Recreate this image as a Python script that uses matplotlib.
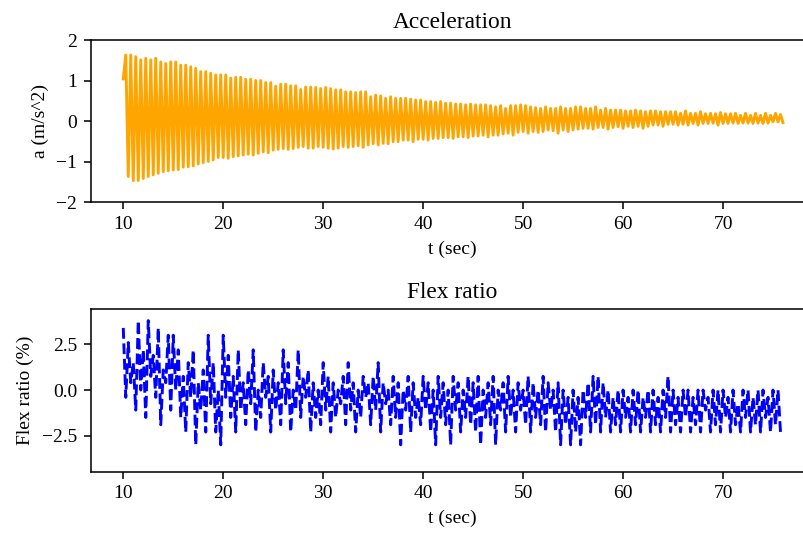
import matplotlib
matplotlib.use("Agg")
import matplotlib.pyplot as plt
import numpy as np

# Sampling of the logged signals
t_start = 10.0
t_step = 0.25

# Acceleration: first sample, then the peak / trough of each cycle (m/s^2)
accel_first = 1.04
accel_peaks = [
    1.63, 1.63, 1.59, 1.51, 1.55, 1.51, 1.55, 1.46, 1.42, 1.46,
    1.46, 1.38, 1.38, 1.34, 1.30, 1.22, 1.22, 1.18, 1.14, 1.14,
    1.14, 1.06, 1.08, 1.08, 1.03, 1.03, 1.00, 1.00, 0.95, 0.95,
    0.86, 0.91, 0.91, 0.87, 0.87, 0.78, 0.84, 0.84, 0.83, 0.80,
    0.83, 0.80, 0.77, 0.77, 0.72, 0.72, 0.70, 0.72, 0.72, 0.60,
    0.64, 0.62, 0.56, 0.60, 0.56, 0.56, 0.56, 0.54, 0.52, 0.52,
    0.48, 0.48, 0.46, 0.48, 0.44, 0.44, 0.42, 0.42, 0.40, 0.42,
    0.40, 0.40, 0.40, 0.38, 0.35, 0.38, 0.31, 0.38, 0.38, 0.40,
    0.38, 0.35, 0.33, 0.31, 0.35, 0.31,
    0.31, 0.35, 0.31, 0.31, 0.35, 0.35, 0.31, 0.31, 0.35, 0.27,
    0.31, 0.27, 0.27, 0.27, 0.25, 0.25, 0.27, 0.25, 0.23, 0.25,
    0.25, 0.23, 0.23, 0.23, 0.23, 0.19, 0.25, 0.19, 0.19, 0.23,
    0.18, 0.19, 0.18, 0.21, 0.18, 0.18, 0.19, 0.14, 0.19, 0.14,
    0.19, 0.14, 0.19, 0.14, 0.19, 0.16,
]
accel_troughs = [
    -1.37, -1.47, -1.47, -1.42, -1.37, -1.33, -1.29, -1.25, -1.23, -1.21,
    -1.20, -1.14, -1.13, -1.11, -1.06, -1.03, -1.00, -0.96, -0.90, -0.90,
    -0.92, -0.88, -0.86, -0.84, -0.82, -0.84, -0.80, -0.76, -0.78, -0.72,
    -0.70, -0.68, -0.70, -0.68, -0.65, -0.63, -0.67, -0.67, -0.63, -0.65,
    -0.67, -0.69, -0.67, -0.63, -0.65, -0.63, -0.61, -0.65, -0.59, -0.56,
    -0.59, -0.55, -0.56, -0.51, -0.51, -0.47, -0.47, -0.51, -0.45, -0.45,
    -0.47, -0.43, -0.43, -0.41, -0.41, -0.43, -0.39, -0.39, -0.41, -0.37,
    -0.37, -0.35, -0.39, -0.35, -0.35, -0.32, -0.30, -0.35, -0.28, -0.26,
    -0.30, -0.26, -0.28, -0.26, -0.22, -0.24,
    -0.30, -0.22, -0.26, -0.22, -0.20, -0.18, -0.18, -0.20, -0.16, -0.16,
    -0.20, -0.16, -0.14, -0.18, -0.13, -0.16, -0.13, -0.18, -0.13, -0.10,
    -0.10, -0.13, -0.08, -0.08, -0.10, -0.08, -0.10, -0.06, -0.10, -0.06,
    -0.06, -0.05, -0.10, -0.06, -0.06, -0.05, -0.06, -0.05, -0.05, -0.06,
    -0.05, -0.06, -0.05, -0.02, -0.02, -0.04,
]

# Flex ratio (%), one value per sample
flex_ratio = [
    3.4, -0.4, 2.6, 0.4, 1.5, -1.1, 3.8, 0.0, 2.2, -1.5, 3.8, 0.75, 1.9, -0.4, 3.4, -1.9, 1.1, 0.4, 3.0, -1.1,
    3.0, 0.0, 2.2, -1.5, 0.75, -2.3, 1.5, -0.4, 2.2, -3.0, 0.4, -1.1, 1.1, -2.3, 3.0, -0.75, 1.5, -2.3, 0.0, -3.0,
    3.0, -0.4, 1.9, -1.5, 0.75, -2.3, 2.2, -1.1, 0.4, -1.9, 1.1, -0.75, 2.2, -2.3, 0.0, -1.5, 1.5, -0.4, 0.75, -2.3,
    1.1, -1.1, 0.4, -1.9, 2.2, -0.75, 1.5, -2.3, 0.0, -1.1, 2.2, -1.5, 0.75, -0.4, 1.1, -2.3, 0.4, -1.5, 0.0, -1.9,
    1.5, -1.1, 0.75, -2.3, 0.4, -1.5, 0.0, -0.75, 0.75, -1.9, 1.5, -1.1, 0.4, -2.3, 0.0, -1.5, 0.75, -0.4, 0.4, -1.9,
    0.75, -1.1, 1.5, -2.3, 0.4, -0.75, 0.0, -1.9, 0.75, -1.5, 0.4, -3.0, 0.0, -1.1, 0.75, -2.3, 0.4, -1.5, -0.4, -1.9,
    0.75, -1.1, 0.4, -2.3, 0.0, -3.0, 0.75, -1.5, 0.4, -1.9, 0.0, -3.0, 0.75, -1.1, 0.4, -2.3, 0.0, -1.5, 0.75, -1.9,
    0.4, -2.3, 0.75, -3.0, 0.0, -1.5, 0.4, -1.9, 0.75, -3.0, 0.0, -1.1, 0.4, -2.3, 0.75, -1.5, 0.0, -2.3, 0.4, -1.1,
    0.0, -1.9, 0.75, -2.3, 0.4, -1.5, 0.0, -1.9, 0.75, -2.3, 0.4, -1.1, 0.0, -2.3, 0.4, -3.0, 0.0, -1.9, -0.4, -3.0,
    0.0, -2.3, -0.4, -3.0, 0.0, -1.5, 0.4, -2.3, 0.75, -1.9, 0.75, -2.3, 0.4, -1.5, 0.0, -2.3, -0.4, -1.9, 0.0, -2.3,
    0.0, -1.5, -0.4, -2.3, 0.0, -1.9, 0.0, -2.3, -0.4, -1.5, 0.0, -2.3, 0.0, -1.9, -0.4, -2.3, 0.0, -1.5, 0.75, -2.3,
    0.0, -1.9, -0.4, -2.3, 0.0, -1.5, 0.0, -2.3, -0.4, -1.9, 0.0, -2.3, 0.0, -1.1, -0.4, -2.3, 0.0, -1.9, 0.0, -2.3,
    0.0, -1.5, -0.4, -2.3, 0.0, -1.9, -0.75, -2.3, 0.0, -1.5, 0.0, -2.3, -0.4, -1.9, 0.0, -2.3, 0.0, -1.5, -0.4, -2.3,
    0.0, -1.9, 0.0, -2.3,
]


def main():
    plt.rcParams['font.family'] = ['Liberation Serif', 'DejaVu Serif']

    # Interleave peaks and troughs into one trace
    n = min(len(accel_peaks), len(accel_troughs))
    accel = np.concatenate([[accel_first],
                            np.column_stack([accel_peaks[:n], accel_troughs[:n]]).ravel()])
    t_accel = t_start + t_step * np.arange(len(accel))
    t_flex = t_start + t_step * np.arange(len(flex_ratio))

    # Rendered at 140 dpi so text and lines come out at the original scale
    dpi = 140
    fig = plt.figure(figsize=(803 / dpi, 534 / dpi), dpi=dpi)

    # Axes run past the right border, as in the cropped original
    ax1 = fig.add_axes([0.1133, 0.6217, 0.9004, 0.3033])
    ax1.plot(t_accel, accel, color='orange')
    ax1.set_title("Acceleration")
    ax1.set_xlabel("t (sec)")
    ax1.set_ylabel("a (m/s^2)")
    ax1.set_ylim(-2, 2)
    ax1.set_yticks([-2, -1, 0, 1, 2])
    ax1.set_xlim(6.77, 79.1)

    ax2 = fig.add_axes([0.1133, 0.1167, 0.9004, 0.3041])
    ax2.plot(t_flex, flex_ratio, 'b--')
    ax2.set_title("Flex ratio")
    ax2.set_xlabel("t (sec)")
    ax2.set_ylabel("Flex ratio (%)")
    ax2.set_ylim(-4.47, 4.42)
    ax2.set_yticks([-2.5, 0.0, 2.5])
    ax2.set_xlim(6.77, 79.1)

    fig.savefig("out.png", dpi=dpi)


if __name__ == '__main__':
    main()
